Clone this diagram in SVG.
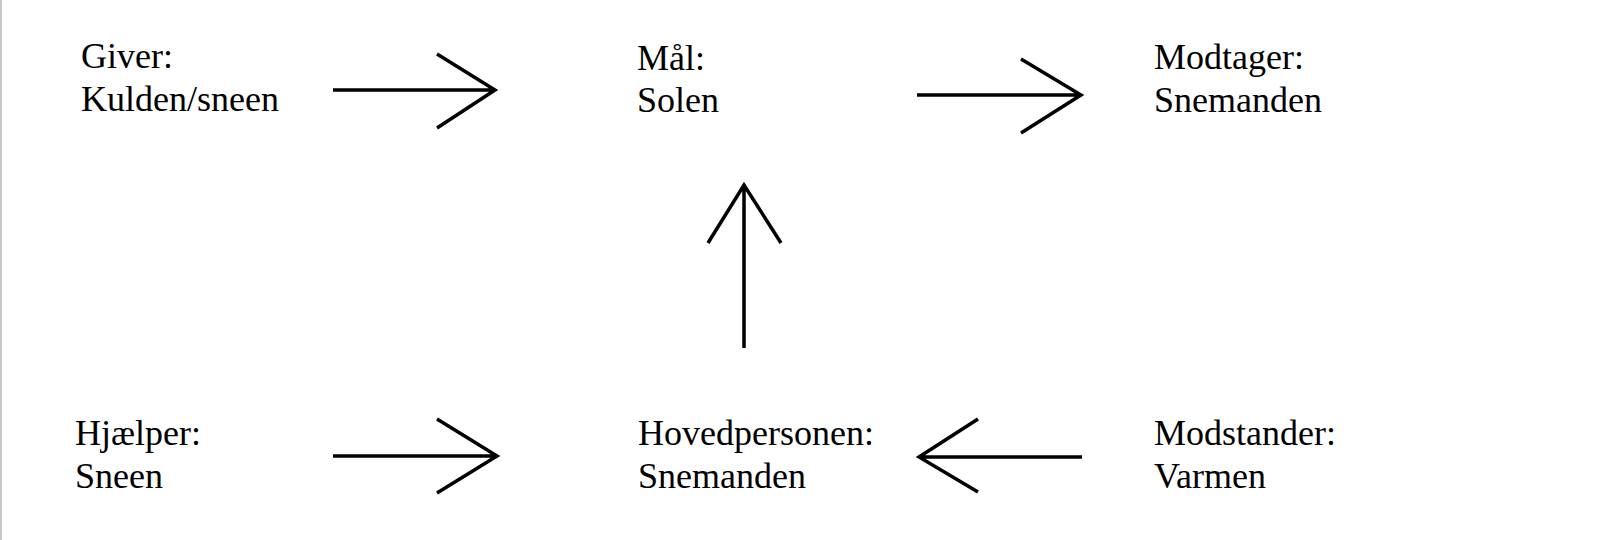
<svg xmlns="http://www.w3.org/2000/svg" width="1602" height="540" viewBox="0 0 1602 540">
<style>
.t{font-family:"Liberation Serif","Times New Roman",serif;font-size:36px;fill:#000}
.c{fill:none;stroke:#000;stroke-width:3.5;stroke-linecap:butt;stroke-linejoin:miter}
</style>
<rect x="0" y="0" width="1602" height="540" fill="#fff"/>
<rect x="0" y="0" width="2" height="540" fill="#c8c8c8"/>
<g id="giver"><text class="t" x="81" y="68">Giver:</text><text class="t" x="81" y="111">Kulden/sneen</text></g>
<g id="maal"><text class="t" x="637" y="70">Mål:</text><text class="t" x="637" y="112">Solen</text></g>
<g id="modtager"><text class="t" x="1154" y="69">Modtager:</text><text class="t" x="1154" y="112">Snemanden</text></g>
<g id="hjaelper"><text class="t" x="75" y="445">Hjælper:</text><text class="t" x="75" y="488">Sneen</text></g>
<g id="hovedperson"><text class="t" x="638" y="445">Hovedpersonen:</text><text class="t" x="638" y="488">Snemanden</text></g>
<g id="modstander"><text class="t" x="1154" y="445">Modstander:</text><text class="t" x="1154" y="488">Varmen</text></g>
<g id="connectors">
<path class="c" d="M333 90H495M437 54L495 90L437 128"/>
<path class="c" d="M917 95H1081M1021 59L1081 95L1021 133"/>
<path class="c" d="M744 348V185M708 243L744 185L781 243"/>
<path class="c" d="M333 456H497M437 419L497 456L437 493"/>
<path class="c" d="M1082 457H919M978 419L919 457L978 492"/>
</g>
</svg>
